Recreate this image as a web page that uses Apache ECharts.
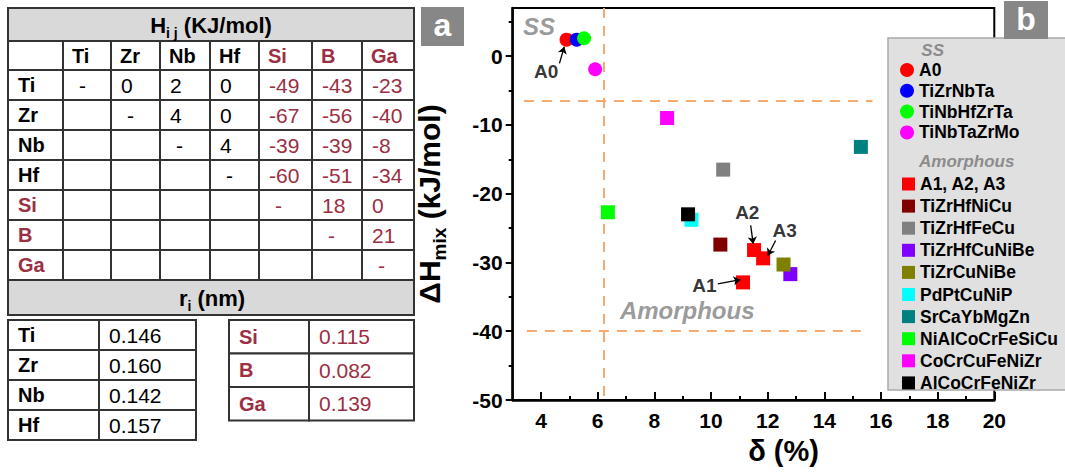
<!DOCTYPE html>
<html><head><meta charset="utf-8">
<script src="https://cdn.jsdelivr.net/npm/echarts@6/dist/echarts.min.js"></script>
<style>html,body{margin:0;padding:0;background:#fff}#c{width:1065px;height:472px}</style>
</head><body><div id="c"></div>
<script>
// ---------------- data ----------------
const hElements = ['Ti','Zr','Nb','Hf','Si','B','Ga'];
const hMatrix = [
  ['-','0','2','0','-49','-43','-23'],
  ['','-','4','0','-67','-56','-40'],
  ['','','-','4','-39','-39','-8'],
  ['','','','-','-60','-51','-34'],
  ['','','','','-','18','0'],
  ['','','','','','-','21'],
  ['','','','','','','-']
];
const rMetalNames = ['Ti','Zr','Nb','Hf'];
const rMetalValues = ['0.146','0.160','0.142','0.157'];
const rNonMetalNames = ['Si','B','Ga'];
const rNonMetalValues = ['0.115','0.082','0.139'];

const ssNames = ['A0','TiZrNbTa','TiNbHfZrTa','TiNbTaZrMo'];
const ssColors = ['#ff0000','#0000ff','#00ff00','#ff00ff'];
const ssPoints = [[[4.90,2.4]],[[5.26,2.4]],[[5.52,2.6]],[[5.91,-1.9]]];

const amNames = ['A1, A2, A3','TiZrHfNiCu','TiZrHfFeCu','TiZrHfCuNiBe','TiZrCuNiBe','PdPtCuNiP','SrCaYbMgZn','NiAlCoCrFeSiCu','CoCrCuFeNiZr','AlCoCrFeNiZr'];
const amColors = ['#ff0000','#800000','#808080','#8000ff','#808000','#00ffff','#008080','#00ff00','#ff00ff','#000000'];
const amPoints = [
  [[11.13,-32.9],[11.52,-28.2],[11.84,-29.4]],
  [[10.33,-27.4]],
  [[10.43,-16.5]],
  [[12.80,-31.7]],
  [[12.56,-30.3]],
  [[9.31,-23.8]],
  [[15.29,-13.2]],
  [[6.36,-22.7]],
  [[8.45,-9.0]],
  [[9.19,-23.0]]
];

const xTicks = [4,6,8,10,12,14,16,18,20];
const xMinorTicks = [5,7,9,11,13,15,17,19];
const yTicks = [-50,-40,-30,-20,-10,0];
const yMinorTicks = [-45,-35,-25,-15,-5,5];

const guideLines = [
  [[6.2,7],[6.2,-50]],
  [[3.4,-6.5],[15.7,-6.5]],
  [[3.5,-40],[15.3,-40]]
];
const noteTexts = ['A0','A2','A3','A1'];
const notePos = [[4.18,-2.3],[11.28,-22.8],[12.60,-25.4],[9.77,-33.4]];
const noteArrows = [
  [[4.65,-1.06],[4.82,1.36]],
  [[11.40,-24.6],[11.49,-27.3]],
  [[12.28,-26.8],[12.01,-29.0]],
  [[10.24,-33.1],[11.04,-32.5]]
];
const regionTexts = ['SS','Amorphous'];
const regionPos = [[3.93,4.27],[9.16,-37.0]];

// ---------------- styles ----------------
const FONT = '"Liberation Sans", Arial, Helvetica, sans-serif';
const RED = '#9c2f43';
const BORDER = '#333333';

function rect(x0,y0,x1,y1,fill,z){
  return {type:'rect', z:z||1, shape:{x:x0,y:y0,width:x1-x0,height:y1-y0},
    style:{fill:fill||'#fff', stroke:BORDER, lineWidth:2}};
}
function txt(x,y,text,size,weight,color,align,italic,z){
  return {type:'text', x:x, y:y, z:z||2, style:{text:text, fill:color, fontSize:size, fontWeight:weight,
    fontFamily:FONT, fontStyle:italic?'italic':'normal', align:align||'left', verticalAlign:'middle'}};
}

const els = [];
// ---- table 1: H_ij ----
const T1X = [8,63,111,160,210,259,312,362,414];
const T1Y = [41,70,100,130,160,190,220,250,280];
els.push(rect(8,8,414,41,'#d9d9d9'));
els.push({type:'text', x:211, y:25, z:2, style:{
  text:'{m|H}{s|i j}{m| (KJ/mol)}', align:'center', verticalAlign:'middle',
  rich:{ m:{fontSize:22,fontWeight:'bold',fontFamily:FONT,fill:'#000',lineHeight:30},
         s:{fontSize:14,fontWeight:'bold',fontFamily:FONT,fill:'#000',lineHeight:14,verticalAlign:'bottom'} }}});
for (let r=0;r<8;r++){
  for (let c=0;c<8;c++){
    els.push(rect(T1X[c],T1Y[r],T1X[c+1],T1Y[r+1],'#fff'));
    const cy = (T1Y[r]+T1Y[r+1])/2;
    if (r===0 && c>0){
      els.push(txt(T1X[c]+9,cy,hElements[c-1],20,'bold',c-1>=4?RED:'#000'));
    } else if (r>0 && c===0){
      els.push(txt(T1X[c]+10,cy,hElements[r-1],20,'bold',r-1>=4?RED:'#000'));
    } else if (r>0 && c>0){
      const v = hMatrix[r-1][c-1];
      if (v!==''){
        const col = c-1>=4?RED:'#000';
        if (v==='-') els.push(txt(T1X[c]+16,cy,v,21,'normal',col));
        else els.push(txt(T1X[c]+10,cy,v,21,'normal',col));
      }
    }
  }
}
// ---- r_i title ----
els.push(rect(8,280,414,315,'#d9d9d9'));
els.push({type:'text', x:212, y:298, z:2, style:{
  text:'{m|r}{s|i}{m| (nm)}', align:'center', verticalAlign:'middle',
  rich:{ m:{fontSize:22,fontWeight:'bold',fontFamily:FONT,fill:'#000',lineHeight:30},
         s:{fontSize:14,fontWeight:'bold',fontFamily:FONT,fill:'#000',lineHeight:14,verticalAlign:'bottom'} }}});
// ---- table 2 ----
const T2X = [8,99,196];
const T2Y = [320,350,380,410,440];
rMetalNames.forEach((n,i)=>{
  els.push(rect(T2X[0],T2Y[i],T2X[1],T2Y[i+1]));
  els.push(rect(T2X[1],T2Y[i],T2X[2],T2Y[i+1]));
  const cy=(T2Y[i]+T2Y[i+1])/2;
  els.push(txt(T2X[0]+10,cy,n,20,'bold','#000'));
  els.push(txt(T2X[1]+10,cy,rMetalValues[i],21,'normal','#000'));
});
// ---- table 3 ----
const T3X = [229,309,414];
const T3Y = [320,353.5,387,420.5];
rNonMetalNames.forEach((n,i)=>{
  els.push(rect(T3X[0],T3Y[i],T3X[1],T3Y[i+1]));
  els.push(rect(T3X[1],T3Y[i],T3X[2],T3Y[i+1]));
  const cy=(T3Y[i]+T3Y[i+1])/2;
  els.push(txt(T3X[0]+10,cy,n,20,'bold',RED));
  els.push(txt(T3X[1]+10,cy,rNonMetalValues[i],21,'normal',RED));
});
// ---- panel labels ----
els.push({type:'rect', z:6, shape:{x:421,y:7,width:43,height:39}, style:{fill:'#878787'}});
els.push(txt(442.5,25,'a',32,'bold','#fff','center',false,7));
els.push({type:'rect', z:6, shape:{x:1004,y:1,width:44,height:38}, style:{fill:'#878787'}});
els.push(txt(1026,19,'b',32,'bold','#fff','center',false,7));
// ---- legend box ----
els.push({type:'rect', z:5, shape:{x:888,y:38,width:180,height:352}, style:{fill:'#e0e0e0', stroke:'#a9a9a9', lineWidth:1.5}});
els.push(txt(932.7,50,'SS',17,'bold','#8c8c8c','center',true,6));
els.push(txt(966.7,161,'Amorphous',17,'bold','#8c8c8c','center',true,6));

// ---------------- series ----------------
const series = [];
series.push({type:'lines', coordinateSystem:'cartesian2d', z:1, silent:true, polyline:false,
  symbol:['none','none'], lineStyle:{color:'#f5aa70', width:2, type:[10,8], opacity:1},
  data: guideLines.map(l=>({coords:l}))});
ssNames.forEach((n,i)=>series.push({type:'scatter', name:n, symbol:'circle', symbolSize:14, z:2,
  itemStyle:{color:ssColors[i], opacity:1}, data:ssPoints[i]}));
amNames.forEach((n,i)=>series.push({type:'scatter', name:n, symbol:'rect', symbolSize:14, z:2,
  itemStyle:{color:amColors[i], opacity:1}, data:amPoints[i]}));
series.push({type:'lines', coordinateSystem:'cartesian2d', z:3, silent:true, polyline:false,
  symbol:['none','arrow'], symbolSize:7, lineStyle:{color:'#000', width:1.3, opacity:1},
  data: noteArrows.map(l=>({coords:l}))});
series.push({type:'scatter', z:4, silent:true, symbolSize:1, itemStyle:{color:'rgba(0,0,0,0)'},
  label:{show:true, position:'inside', formatter:p=>noteTexts[p.dataIndex], fontSize:19, fontWeight:'bold', color:'#000', fontFamily:FONT},
  data: notePos});
series.push({type:'scatter', z:4, silent:true, symbolSize:1, itemStyle:{color:'rgba(0,0,0,0)'},
  label:{show:true, position:'inside', formatter:p=>regionTexts[p.dataIndex], fontSize:24, fontWeight:'bold', fontStyle:'italic', color:'#808080', fontFamily:FONT},
  data: regionPos});

const axisFont = {fontSize:21, fontWeight:'bold', color:'#000', fontFamily:FONT};
const option = {
  animation:false,
  graphic:{elements:els},
  grid:{left:512.7, top:8, right:70.7, bottom:72, show:true, borderColor:'#000', borderWidth:2, backgroundColor:'rgba(0,0,0,0)'},
  legend:[
    {data:ssNames, orient:'vertical', left:900, top:61, itemWidth:14, itemHeight:14, itemGap:2.8, icon:'circle', z:10, selectedMode:false,
     textStyle:{fontSize:17.5, fontWeight:'bold', color:'#000', fontFamily:FONT}, padding:0},
    {data:amNames, orient:'vertical', left:902, top:175, itemWidth:13, itemHeight:13, itemGap:4.1, icon:'rect', z:10, selectedMode:false,
     textStyle:{fontSize:17.5, fontWeight:'bold', color:'#000', fontFamily:FONT}, padding:0}
  ],
  xAxis:[
    {type:'value', min:3, max:20, position:'bottom',
     axisLine:{show:true, onZero:false, lineStyle:{color:'#000', width:2.5}},
     axisTick:{show:true, inside:true, length:8, customValues:xTicks, lineStyle:{color:'#000', width:2}},
     axisLabel:{show:true, customValues:xTicks, margin:10, ...axisFont},
     splitLine:{show:false},
     name:'δ (%)', nameLocation:'middle', nameGap:36,
     nameTextStyle:{fontSize:29, fontWeight:'bold', color:'#000', fontFamily:FONT, padding:[0,0,0,60]}},
    {type:'value', min:3, max:20, position:'bottom',
     axisLine:{show:false, onZero:false},
     axisTick:{show:true, inside:true, length:4, customValues:xMinorTicks, lineStyle:{color:'#000', width:2}},
     axisLabel:{show:false}, splitLine:{show:false}}
  ],
  yAxis:[
    {type:'value', min:-50, max:7, position:'left',
     axisLine:{show:true, onZero:false, lineStyle:{color:'#000', width:2.5}},
     axisTick:{show:true, inside:false, length:7, customValues:yTicks, lineStyle:{color:'#000', width:2}},
     axisLabel:{show:true, customValues:yTicks, margin:10, ...axisFont},
     splitLine:{show:false},
     name:'{m|ΔH}{s|mix}{m| (kJ/mol)}', nameLocation:'middle', nameRotate:90, nameGap:64,
     nameTextStyle:{rich:{
       m:{fontSize:30, fontWeight:'bold', color:'#000', fontFamily:FONT, lineHeight:38},
       s:{fontSize:19, fontWeight:'bold', color:'#000', fontFamily:FONT, lineHeight:19, verticalAlign:'bottom'}}}},
    {type:'value', min:-50, max:7, position:'left',
     axisLine:{show:false, onZero:false},
     axisTick:{show:true, inside:false, length:4, customValues:yMinorTicks, lineStyle:{color:'#000', width:2}},
     axisLabel:{show:false}, splitLine:{show:false}}
  ],
  series: series
};
const chart = echarts.init(document.getElementById('c'), null, {renderer:'svg'});
chart.setOption(option);
</script></body></html>
